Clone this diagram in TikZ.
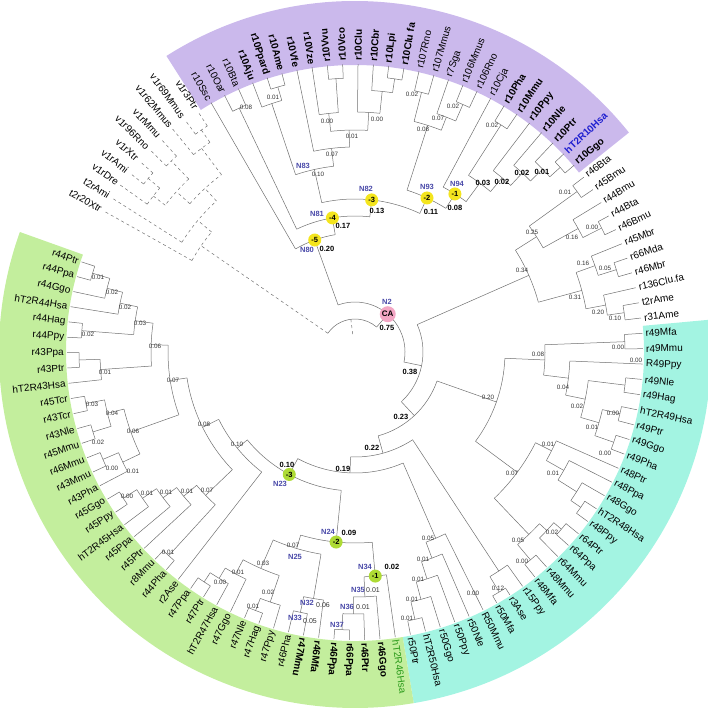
\documentclass[tikz,border=0pt]{standalone}
\usepackage{fontspec}
\setmainfont{Liberation Sans}
\definecolor{purp}{HTML}{CBB9EC}
\definecolor{grn}{HTML}{C3EE9D}
\definecolor{cyn}{HTML}{A3F4E2}
\definecolor{lineg}{HTML}{707070}
\definecolor{nblue}{HTML}{4848A8}
\definecolor{hblue}{HTML}{2020D0}
\definecolor{hgreen}{HTML}{2A9A1A}
\definecolor{ymark}{HTML}{F4E51E}
\definecolor{gmark}{HTML}{AEDB35}
\definecolor{pmark}{HTML}{F3A6C4}
\definecolor{valc}{HTML}{333333}
\newcommand\leafA[2]{%
  \pgfmathsetmacro\myA{(#2<104.5) ? (120-3.06*#2) : (112-3.06*#2)}%
  \expandafter\xdef\csname tA#1\endcsname{\myA}%
  \expandafter\xdef\csname tR#1\endcsname{288}}
\newcommand\clade[4][]{%
  \gdef\cfirst{}%
  \foreach \cc in {#4}{%
    \ifx\cfirst\empty\xdef\cfirst{\cc}\fi
    \xdef\clast{\cc}%
    \edef\myA{\csname tA\cc\endcsname}%
    \edef\myR{\csname tR\cc\endcsname pt}%
    \draw[br,#1] (\myA:#3pt) -- (\myA:\myR);
  }%
  \edef\myA{\csname tA\cfirst\endcsname}%
  \edef\myB{\csname tA\clast\endcsname}%
  \draw[br,#1] (\myA:#3pt) arc[start angle=\myA, end angle=\myB, radius=#3pt];
  \pgfmathsetmacro\myM{(\myA+\myB)/2}%
  \expandafter\xdef\csname tA#2\endcsname{\myM}%
  \expandafter\xdef\csname tR#2\endcsname{#3}%
}
\begin{document}
\begin{tikzpicture}[x=1pt,y=-1pt,
  br/.style={draw=lineg, line width=0.5pt},
  leaf/.style={font=\fontsize{10}{12}\selectfont, inner sep=0pt},
  lfN/.style={},
  lfB/.style={font=\fontsize{10}{12}\selectfont\bfseries},
  lfU/.style={font=\fontsize{10}{12}\selectfont\bfseries, text=hblue},
  lfG/.style={text=hgreen},
  val/.style={font=\fontsize{6.3}{7}\selectfont, text=valc, inner sep=0pt},
  valb/.style={font=\fontsize{7.5}{8}\selectfont\bfseries, inner sep=0pt},
  nl/.style={font=\fontsize{7.5}{8}\selectfont\bfseries, text=nblue, inner sep=0pt},
  ymk/.style={circle, fill=ymark, inner sep=0pt, minimum size=13pt, font=\fontsize{7.5}{8}\selectfont\bfseries},
  gmk/.style={circle, fill=gmark, inner sep=0pt, minimum size=13pt, font=\fontsize{7.5}{8}\selectfont\bfseries},
  pmk/.style={circle, fill=pmark, inner sep=0pt, minimum size=16pt, font=\fontsize{8}{9}\selectfont\bfseries}]
\useasboundingbox (0,0) rectangle (708,708);
\begin{scope}[shift={(355,352)}]
% bands
\fill[purp] (38.7:287pt) arc[start angle=38.7, end angle=122.5, radius=287pt] -- (122.5:351pt) arc[start angle=122.5, end angle=38.7, radius=351pt] -- cycle;
\fill[cyn] (5.2:289pt) arc[start angle=5.2, end angle=-80.5, radius=289pt] -- (-80.5:356pt) arc[start angle=-80.5, end angle=5.2, radius=356pt] -- cycle;
\fill[grn] (-80.5:289pt) arc[start angle=-80.5, end angle=-199.7, radius=289pt] -- (-199.7:356pt) arc[start angle=-199.7, end angle=-80.5, radius=356pt] -- cycle;
% leaves
\foreach \ii in {0,...,114}{\leafA{l\ii}{\ii}}
% purple clade
\clade{A}{270}{l1,l2}
\clade{B1}{276}{l4,l5}
\clade{B}{262}{l3,B1}
\clade{E1}{274}{l8,l9}
\clade{E}{240}{l7,E1}
\clade{H}{276}{l12,l13}
\clade{G}{262}{l11,H}
\clade{F}{240}{l10,G}
\clade{D}{222}{E,F}
\clade{C}{205}{l6,D}
\clade{N83}{187}{B,C}
\clade{J}{268}{l14,l15}
\clade{K1}{270}{l17,l18}
\clade{K}{252}{l16,K1}
\clade{I}{238}{J,K}
\clade{L}{270}{l20,l21}
\clade{M}{276}{l25,l26}
\clade{X4}{262}{l24,M}
\clade{X3}{245}{l23,X4}
\clade{X2}{228}{l22,X3}
\clade{X1}{210}{L,X2}
\clade{N94}{187}{l19,X1}
\clade{N93}{170}{I,N94}
\clade{N82}{153}{N83,N93}
\clade{N81}{136}{A,N82}
\clade{N80}{119}{l0,N81}
% white clade
\clade{W1}{274}{l27,l28}
\clade{W2}{276}{l30,l31}
\clade{W3}{255}{l29,W2}
\clade{W4}{215}{W1,W3}
\clade{W5}{274}{l33,l34}
\clade{W6}{255}{l32,W5}
\clade{W7}{272}{l36,l37}
\clade{W8}{255}{l35,W7}
\clade{W9}{235}{W6,W8}
\clade{W10}{190}{W4,W9}
% cyan clade
\clade{C1}{270}{l38,l39}
\clade{C2}{272}{l41,l42}
\clade{C3}{272}{l43,l44}
\clade{C4}{274}{l45,l46}
\clade{C5}{254}{C3,C4}
\clade{C6}{235}{C2,C5}
\clade{C7}{215}{l40,C6}
\clade{C8}{190}{C1,C7}
\clade{D1}{274}{l50,l51}
\clade{D2}{262}{l49,D1}
\clade{D3}{240}{l48,D2}
\clade{D4}{220}{l47,D3}
\clade{E1c}{272}{l52,l53}
\clade{E2c}{262}{E1c,l54}
\clade{E3c}{272}{l55,l56}
\clade{E4c}{252}{E2c,E3c}
\clade{DE}{202}{D4,E4c}
\clade{Cy1}{150}{C8,DE}
\clade{Q2}{280}{l58,l59}
\clade{Q}{262}{l57,Q2}
\clade{R50a}{274}{l64,l65}
\clade{R50b}{256}{l63,R50a}
\clade{R50c}{238}{l62,R50b}
\clade{R50d}{220}{l61,R50c}
\clade{R50e}{203}{l60,R50d}
% green clade
\clade{N37}{278}{l69,l70}
\clade{N36}{262}{l68,N37}
\clade{N35}{245}{l67,N36}
\clade{N34}{225}{l66,N35}
\clade{N33}{266}{l72,l73}
\clade{N32}{250}{l71,N33}
\clade{F1}{277}{l75,l76}
\clade{F2}{264}{l74,F1}
\clade{F3}{275}{l79,l80}
\clade{F4}{264}{l78,F3}
\clade{F4b}{252}{l77,F4}
\clade{F5}{236}{F2,F4b}
\clade{N25}{205}{F5,N32}
\clade{N24}{191}{N25,N34}
\clade{H1}{276}{l82,l83}
\clade{L1}{274}{l87,l88}
\clade{L2}{258}{l86,L1}
\clade{L3}{241}{l85,L2}
\clade{L4}{224}{l84,L3}
\clade{L5}{207}{H1,L4}
\clade{b1}{274}{l90,l91}
\clade{bb}{257}{l89,b1}
\clade{N1g}{274}{l92,l93}
\clade{M1}{274}{l94,l95}
\clade{M2}{255}{N1g,M1}
\clade{G6b}{238}{bb,M2}
\clade{P1}{276}{l97,l98}
\clade{P2}{255}{l96,P1}
\clade{Q1}{274}{l99,l100}
\clade{R1}{274}{l103,l104}
\clade{R2}{256}{l102,R1}
\clade{R3}{240}{l101,R2}
\clade{R4}{222}{Q1,R3}
\clade{G6a}{204}{P2,R4}
\clade{G7}{187}{G6b,G6a}
\clade{G8}{170}{L5,G7}
\clade{G10}{152}{l81,G8}
\clade{N23}{139}{N24,G10}
% spine
\clade{S19}{121}{N23,R50e}
\clade{S22}{105}{S19,Q}
\clade{S23}{87}{Cy1,S22}
\clade{S38}{68}{W10,S23}
\clade{N2}{50}{N80,S38}
% outgroup (dashed)
\clade[dashed]{O1}{270}{l113,l114}
\clade[dashed]{O2}{255}{l112,O1}
\clade[dashed]{O3}{265}{l110,l111}
\clade[dashed]{O4}{270}{l108,l109}
\clade[dashed]{O5}{255}{l107,O4}
\clade[dashed]{O6}{240}{O3,O5}
\clade[dashed]{O7}{222}{O6,O2}
\clade[dashed]{O8}{205}{l106,O7}
\clade[dashed]{O9}{187}{l105,O8}
% root
\pgfmathsetmacro\rootA{\csname tAO9\endcsname+360}
\edef\rootB{\csname tAN2\endcsname}
\pgfmathsetmacro\rootM{(\rootA+\rootB)/2}
\draw[br] (\rootA:33pt) arc[start angle=\rootA, end angle=\rootB, radius=33pt];
\draw[br,dashed] (\rootA:33pt) -- (\rootA:187pt);
\draw[br] (\rootB:33pt) -- (\rootB:50pt);
\draw[br,dashed] (\rootM:33pt) -- (\rootM:18pt);
% markers
\foreach \nm/\tx/\st in {N80/-5/ymk, N81/-4/ymk, N82/-3/ymk, N93/-2/ymk, N94/-1/ymk, N23/-3/gmk, N24/-2/gmk, N34/-1/gmk, N2/CA/pmk}{%
  \edef\myA{\csname tA\nm\endcsname}%
  \edef\myR{\csname tR\nm\endcsname pt}%
  \edef\tmp{\noexpand\node[\st] (m\nm) at (\myA:\myR) {\tx};}\tmp
}
% leaf labels
\foreach \ii/\tx/\st in {0/r10Ssc/lfN,1/r10Oar/lfN,2/r10Bta/lfN,3/r10Aju/lfB,4/r10Ppard/lfB,5/r10Ame/lfB,6/r10Vfe/lfB,7/r10Vze/lfB,8/r10Vvu/lfB,9/r10Vco/lfB,10/r10Clu/lfB,11/r10Cbr/lfB,12/r10Lpi/lfB,13/r10Clu fa/lfB,14/r107Rno/lfN,15/r107Mmus/lfN,16/r7Sga/lfN,17/r106Mmus/lfN,18/r106Rno/lfN,19/r10Cja/lfN,20/r10Pha/lfB,21/r10Mmu/lfB,22/r10Ppy/lfB,23/r10Nle/lfB,24/r10Ptr/lfB,25/hT2R10Hsa/lfU,26/r10Ggo/lfB,
27/r46Bta/lfN,28/r45Bmu/lfN,29/r44Bmu/lfN,30/r44Bta/lfN,31/r46Bmu/lfN,32/r45Mbr/lfN,33/r66Mda/lfN,34/r46Mbr/lfN,35/r136Clu.fa/lfN,36/t2rAme/lfN,37/r31Ame/lfN,
38/r49Mfa/lfN,39/r49Mmu/lfN,40/R49Ppy/lfN,41/r49Nle/lfN,42/r49Hag/lfN,43/hT2R49Hsa/lfN,44/r49Ptr/lfN,45/r49Ggo/lfN,46/r49Pha/lfN,47/r48Ptr/lfN,48/r48Ppa/lfN,49/r48Ggo/lfN,50/hT2R48Hsa/lfN,51/r48Ppy/lfN,52/r64Ptr/lfN,53/r64Ppa/lfN,54/r64Mmu/lfN,55/r48Mmu/lfN,56/r48Mfa/lfN,57/r15Ppy/lfN,58/r3Ase/lfN,59/r50Mfa/lfN,60/R50Mmu/lfN,61/r50Nle/lfN,62/r50Ppy/lfN,63/r50Ggo/lfN,64/hT2R50Hsa/lfN,65/r50Ptr/lfN,
66/hT2R46Hsa/lfG,67/r46Ggo/lfB,68/r46Ptr/lfB,69/r66Ppa/lfB,70/r46Ppa/lfB,71/r46Mfa/lfB,72/r47Mmu/lfB,73/r46Pha/lfN,74/r47Ppy/lfN,75/r47Hag/lfN,76/r47Nle/lfN,77/r47Ggo/lfN,78/hT2R47Hsa/lfN,79/r47Ptr/lfN,80/r47Ppa/lfN,81/r2Ase/lfN,82/r44Pha/lfN,83/r8Mmu/lfN,84/r45Ptr/lfN,85/r45Ppa/lfN,86/hT2R45Hsa/lfN,87/r45Ppy/lfN,88/r45Ggo/lfN,89/r43Pha/lfN,90/r43Mmu/lfN,91/r46Mmu/lfN,92/r45Mmu/lfN,93/r43Nle/lfN,94/r43Tcr/lfN,95/r45Tcr/lfN,96/hT2R43Hsa/lfN,97/r43Ptr/lfN,98/r43Ppa/lfN,99/r44Ppy/lfN,100/r44Hag/lfN,101/hT2R44Hsa/lfN,102/r44Ggo/lfN,103/r44Ppa/lfN,104/r44Ptr/lfN,
105/t2r20Xtr/lfN,106/t2rAmi/lfN,107/v1rDre/lfN,108/v1rAmi/lfN,109/v1rXtr/lfN,110/v1r96Rno/lfN,111/v1rMmu/lfN,112/v1r62Mmus/lfN,113/v1r69Mmus/lfN,114/v1r3Ptr/lfN}{%
  \edef\myA{\csname tAl\ii\endcsname}%
  \pgfmathtruncatemacro\myT{(\myA>-102.5 && \myA<97) ? 1 : 0}%
  \ifnum\myT=1
    \edef\tmp{\noexpand\node[leaf,\st,anchor=west,rotate=\myA] (t\ii) at (\myA:291pt) {\tx};}%
  \else
    \pgfmathsetmacro\myB{\myA+180}%
    \edef\tmp{\noexpand\node[leaf,\st,anchor=east,rotate=\myB] (t\ii) at (\myA:291pt) {\tx};}%
  \fi
  \tmp
}
\end{scope}
% branch values
\foreach \x/\y/\tx [count=\k] in {246/107/0.08,273/97/0.01,327/121/0.00,377/119/0.00,352/136/0.01,332/154/0.07,318/174/0.10,412/94/0.02,453/106/0.02,438/118/0.07,423/129/0.08,492/125/0.02,
565/192/0.01,592/227/0.00,572/237/0.16,583/263/0.16,605/268/0.05,575/297/0.31,598/312/0.20,615/318/0.10,532/232/0.25,522/270/0.34,
618/347/0.00,636/360/0.00,563/387/0.04,577/406/0.02,613/413/0.00,592/427/0.01,605/453/0.00,548/444/0.01,512/473/0.07,553/473/0.01,552/532/0.02,518/540/0.05,522/561/0.00,498/588/0.12,473/593/0.00,428/538/0.05,423/559/0.01,418/579/0.01,412/599/0.01,407/618/0.01,538/354/0.08,488/397/0.20,
293/545/0.07,263/563/0.03,238/572/0.01,220/582/0.00,268/592/0.02,253/606/0.01,168/552/0.01,237/444/0.10,204/424/0.08,207/490/0.07,187/491/0.01,166/492/0.01,147/493/0.01,127/496/0.00,133/471/0.01,112/468/0.00,98/442/0.02,133/431/0.06,92/404/0.03,112/413/0.04,173/380/0.07,105/372/0.01,155/346/0.06,88/334/0.02,140/323/0.03,125/307/0.02,112/292/0.02,98/277/0.01}{%
  \node[val] (v\k) at (\x,\y) {\tx};
}
\foreach \x/\y/\tx [count=\k] in {373/590/0.01,363/607/0.01,323/605/0.06,310/621/0.05}{%
  \node[val,font=\fontsize{7}{8}\selectfont] (u\k) at (\x,\y) {\tx};
}
\foreach \x/\y/\tx [count=\k] in {483/183/0.03,502/182/0.02,522/173/0.02,542/172/0.01,327/249/0.20,343/226/0.17,377/211/0.13,431/212/0.11,455/208/0.08,387/328/0.75,410/372/0.38,401/417/0.23,372/448/0.22,343/469/0.19,287/465/0.10,349/533/0.09,392/567/0.02}{%
  \node[valb] (w\k) at (\x,\y) {\tx};
}
\foreach \x/\y/\tx in {307/250/N80,317/214/N81,366/189/N82,303/166/N83,427/187/N93,457/184/N94,387/302/N2,280/484/N23,328/532/N24,295/557/N25,365/567/N34,358/590/N35,347/607/N36,337/625/N37,307/603/N32,295/618/N33}{%
  \node[nl] (n\tx) at (\x,\y) {\tx};
}
\end{tikzpicture}
\end{document}
